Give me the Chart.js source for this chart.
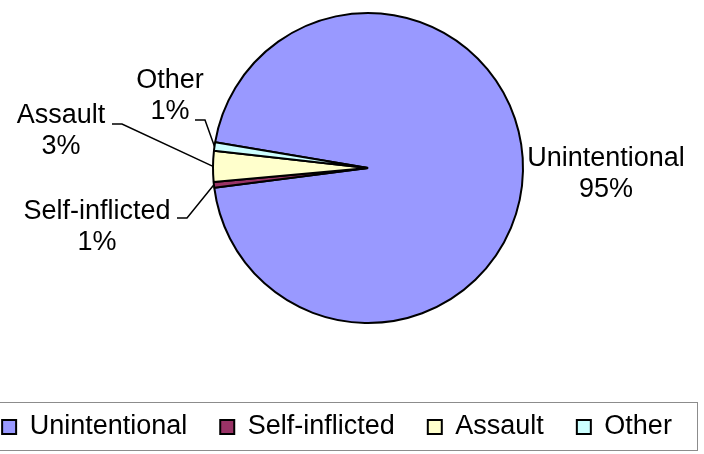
<!DOCTYPE html>
<html>
<head>
<meta charset="utf-8">
<script src="https://cdn.jsdelivr.net/npm/chart.js@4"></script>
<style>
  html, body { margin: 0; padding: 0; background: #fff; }
  #wrap { width: 704px; height: 454px; }
</style>
</head>
<body>
<div id="wrap"><canvas id="injuryChart"></canvas></div>
<script>
const categories = ['Unintentional', 'Self-inflicted', 'Assault', 'Other'];
const shares = [95.3, 0.6, 3.2, 0.9];
const sliceColors = ['#9999FF', '#993366', '#FFFFCC', '#CCFFFF'];

// where each slice label sits, as offsets from the pie centre
const labelSpots = [
    { dx: 238, dy: 6, lead: null },
    { dx: -271, dy: 59, lead: [-191, 50] },
    { dx: -307, dy: -37, lead: [-256, -44] },
    { dx: -198, dy: -72, lead: [-173, -48] }
];

const labelFont = '27px "Liberation Sans", Arial, sans-serif';

const sliceLabels = {
    id: 'sliceLabels',
    afterLayout(chart) {
        // legend box sits a bit left of the pie in the original
        chart.legend.left -= 31;
        chart.legend.right -= 31;
    },
    afterDatasetsDraw(chart) {
        const ctx = chart.ctx;
        const arcs = chart.getDatasetMeta(0).data;
        const total = shares.reduce((a, b) => a + b, 0);
        ctx.save();
        ctx.font = labelFont;
        ctx.fillStyle = '#000';
        ctx.strokeStyle = '#000';
        ctx.lineWidth = 1.5;
        ctx.textAlign = 'center';
        ctx.textBaseline = 'middle';
        arcs.forEach((arc, i) => {
            const p = arc.getProps(['x', 'y', 'startAngle', 'endAngle', 'outerRadius'], true);
            const spot = labelSpots[i];
            const cx = p.x + spot.dx, cy = p.y + spot.dy;
            ctx.fillText(categories[i], cx, cy - 15.5);
            ctx.fillText(Math.round(shares[i] / total * 100) + '%', cx, cy + 15.5);
            if (spot.lead) {
                const mid = (p.startAngle + p.endAngle) / 2;
                const ex = p.x + Math.cos(mid) * p.outerRadius;
                const ey = p.y + Math.sin(mid) * p.outerRadius;
                const sx = p.x + spot.lead[0], sy = p.y + spot.lead[1];
                ctx.beginPath();
                ctx.moveTo(sx, sy);
                ctx.lineTo(sx + 10, sy);
                ctx.lineTo(ex, ey);
                ctx.stroke();
            }
        });
        ctx.restore();
    },
    afterDraw(chart) {
        // thin grey frame round the legend row
        const lg = chart.legend;
        const boxes = lg.legendHitBoxes;
        const first = boxes[0], last = boxes[boxes.length - 1];
        const ctx = chart.ctx;
        ctx.save();
        ctx.strokeStyle = '#8c8c8c';
        ctx.lineWidth = 1;
        const l = first.left - 27, r = last.left + last.width + 25;
        ctx.strokeRect(Math.round(l) + 0.5, Math.round(lg.top + 21.5) + 0.5,
            Math.round(r - l), Math.round(lg.bottom - lg.top - 22));
        ctx.restore();
    }
};

new Chart(document.getElementById('injuryChart'), {
    type: 'pie',
    data: {
        labels: categories,
        datasets: [{
            data: shares,
            backgroundColor: sliceColors,
            borderColor: '#000',
            borderWidth: 2,
            hoverBorderWidth: 2
        }]
    },
    options: {
        responsive: true,
        maintainAspectRatio: false,
        animation: false,
        rotation: -80.4,
        layout: {
            // wide legend row so all four items fit on one line
            padding: { left: -32, right: -64, top: 12, bottom: 3.5 }
        },
        plugins: {
            tooltip: { enabled: false },
            // empty titles used as spacers: below the pie, and left of it
            title: {
                display: true,
                text: '',
                position: 'bottom',
                weight: 100,
                font: { size: 10, lineHeight: 1 },
                padding: { top: 46.5, bottom: 0 }
            },
            subtitle: {
                display: true,
                text: '',
                position: 'left',
                fullSize: false,
                font: { size: 10, lineHeight: 1 },
                padding: { top: 54, bottom: 0 }
            },
            legend: {
                position: 'bottom',
                labels: {
                    color: '#000',
                    font: { family: '"Liberation Sans", Arial, sans-serif', size: 27 },
                    boxWidth: 14,
                    boxHeight: 14,
                    padding: 33
                }
            }
        }
    },
    plugins: [sliceLabels]
});
</script>
</body>
</html>
